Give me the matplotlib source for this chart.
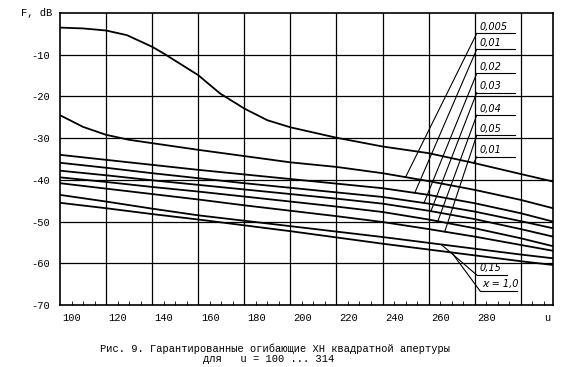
import matplotlib
matplotlib.use('Agg')
import matplotlib.pyplot as plt
from matplotlib.transforms import ScaledTranslation
import numpy as np

# ---------------- data ----------------
u_c1 = [100, 110, 120, 129, 140, 145, 160, 169.5, 180, 190, 200, 220, 240, 260, 280, 300, 314]
f_c1 = [-3.5, -3.7, -4.2, -5.3, -8.1, -9.7, -14.9, -19.3, -22.9, -25.7, -27.4, -29.9, -32.0, -33.6, -36.0, -38.6, -40.4]

u_c2 = [100, 110, 120, 130, 140, 160, 180, 200, 220, 240, 260, 280, 300, 314]
f_c2 = [-24.5, -27.3, -29.2, -30.4, -31.2, -32.8, -34.3, -35.8, -36.9, -38.4, -40.3, -42.4, -44.8, -46.8]

u_grid = [100, 120, 140, 160, 180, 200, 220, 240, 260, 280, 300, 314]
f_c3 = [-34.0, -35.2, -36.4, -37.6, -38.7, -39.8, -40.9, -42.0, -43.6, -45.6, -48.0, -50.0]
f_c4 = [-35.9, -37.1, -38.4, -39.6, -40.8, -41.9, -43.0, -44.1, -45.7, -47.6, -49.9, -51.6]
f_c5 = [-37.8, -38.9, -40.1, -41.2, -42.3, -43.4, -44.5, -45.7, -47.4, -49.4, -51.8, -53.6]
f_c6 = [-39.4, -40.5, -41.7, -42.8, -44.0, -45.2, -46.4, -47.7, -49.5, -51.6, -54.0, -55.9]
f_c7 = [-40.8, -42.1, -43.4, -44.7, -46.1, -47.4, -48.7, -50.1, -51.8, -53.6, -55.6, -57.0]
f_c8 = [-43.6, -45.2, -46.9, -48.5, -49.8, -51.1, -52.4, -53.7, -55.1, -56.5, -57.9, -58.8]
f_c9 = [-45.5, -46.8, -48.2, -49.5, -50.9, -52.3, -53.8, -55.3, -56.7, -58.1, -59.5, -60.4]

curve_labels = ['0,005', '0,01', '0,02', '0,03', '0,04', '0,05', '0,01', '0,15', 'ϰ = 1,0']

x_ticks = [100, 120, 140, 160, 180, 200, 220, 240, 260, 280]
x_tick_labels = ['100', '120', '140', '160', '180', '200', '220', '240', '260', '280']
y_ticks = [-10, -20, -30, -40, -50, -60, -70]
y_tick_labels = ['-10', '-20', '-30', '-40', '-50', '-60', '-70']

caption1 = 'Рис. 9. Гарантированные огибающие ХН квадратной апертуры'
caption2 = 'для   u = 100 ... 314'

# ---------------- figure ----------------
fig = plt.figure(figsize=(5.67, 3.67), dpi=100)
ax = fig.add_axes([0.1058, 0.1689, 0.8695, 0.7957])
ax.set_xlim(100, 314)
ax.set_ylim(-70, 0)

for x in range(120, 301, 20):
    ax.axvline(x, color='black', lw=0.9, zorder=1)
for y in range(-60, 0, 10):
    ax.axhline(y, color='black', lw=0.9, zorder=1)
for s in ax.spines.values():
    s.set_linewidth(1.2)

curves = [(u_c1, f_c1), (u_c2, f_c2)] + [(u_grid, f) for f in (f_c3, f_c4, f_c5, f_c6, f_c7, f_c8, f_c9)]
for uu, ff in curves:
    ax.plot(uu, ff, color='black', lw=1.3, zorder=3)

# ticks
mono = 'Liberation Mono'
ax.set_xticks(x_ticks)
ax.set_xticklabels(x_tick_labels, fontsize=7.5, family=mono)
ax.set_xticks(np.arange(105, 314, 5), minor=True)
ax.tick_params(axis='x', which='major', length=0, pad=6)
ax.tick_params(axis='x', which='minor', direction='in', length=3, width=0.6, top=False)
off = ScaledTranslation(12 / 100, 0, fig.dpi_scale_trans)
for lab in ax.get_xticklabels():
    lab.set_transform(lab.get_transform() + off)
ax.set_yticks(y_ticks)
ax.set_yticklabels(y_tick_labels, fontsize=7.5, family=mono)
ax.tick_params(axis='y', length=0, pad=7)
ax.text(-0.015, 1.0, 'F, dB', transform=ax.transAxes, ha='right', va='center',
        fontsize=7.5, family=mono)
ax.text(311.5, -71.8, 'u', ha='center', va='top', fontsize=7.5, family=mono)

# curve labels with leader lines
ul_y = [-4.9, -8.7, -14.5, -19.1, -24.5, -29.3, -34.5, -62.8, -66.6]
ul_x0 = [280.9] * 7 + [280.9, 282.3]
ul_x1 = [297.5] * 7 + [293.9, 298.3]
target = [(u_c2, f_c2, 250), (u_grid, f_c3, 254), (u_grid, f_c4, 258), (u_grid, f_c5, 261),
          (u_grid, f_c6, 264), (u_grid, f_c7, 267), (u_c1, f_c1, 279.6),
          (u_grid, f_c8, 265.5), (u_grid, f_c9, 270)]
for lab, y, x0, x1, (uu, ff, ut) in zip(curve_labels, ul_y, ul_x0, ul_x1, target):
    yt = np.interp(ut, uu, ff)
    ax.plot([ut, x0], [yt, y], color='black', lw=0.8, zorder=2)
    ax.plot([x0, x1], [y, y], color='black', lw=0.8, zorder=2)
    ax.text(x0 + 1.0, y + 0.4, lab, ha='left', va='bottom', fontsize=7,
            style='italic', family='DejaVu Sans')

# caption
fig.text(100 / 567, 1 - 349 / 367, caption1, ha='left', va='center', fontsize=7.5, family=mono)
fig.text(203 / 567, 1 - 359 / 367, caption2, ha='left', va='center', fontsize=7.5, family=mono)

fig.savefig('out.png', dpi=100)
